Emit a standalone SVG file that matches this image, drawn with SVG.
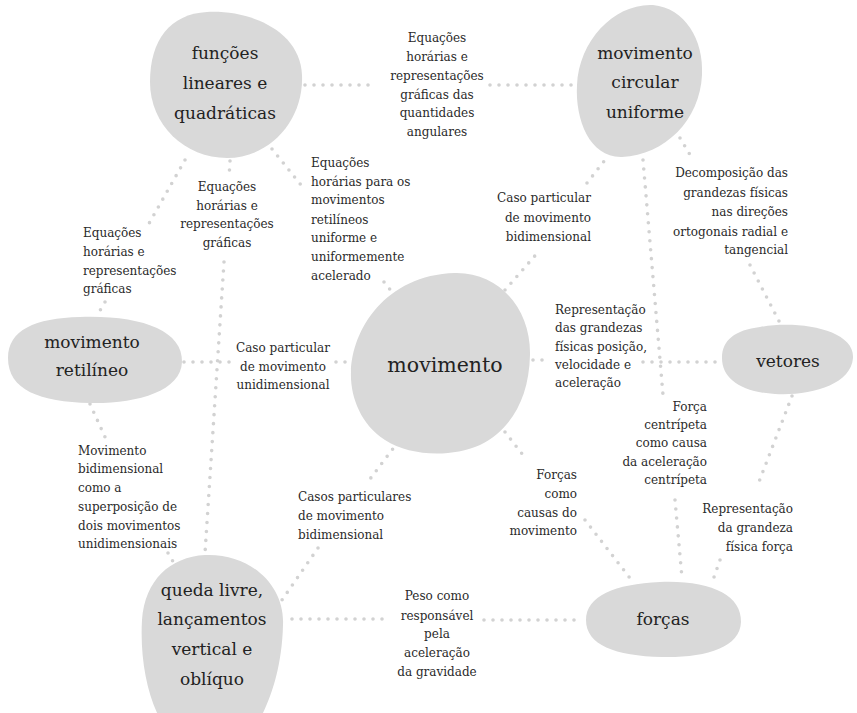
<svg xmlns="http://www.w3.org/2000/svg" width="857" height="713" viewBox="0 0 857 713">
<style>
.blob{fill:#d9d9d9;stroke:none}
.nt{font-family:"DejaVu Serif","Liberation Serif",serif;font-size:17px;fill:#222;text-anchor:middle}
.big{font-size:20.5px}
.lt{font-family:"DejaVu Serif","Liberation Serif",serif;font-size:12px;fill:#2a2a2a}
.m{text-anchor:middle}
.e{text-anchor:end}
.c line{stroke:#d2d2d2;stroke-width:3.6;stroke-linecap:round;stroke-dasharray:0 9;fill:none}
</style>
<rect width="857" height="713" fill="#ffffff"/>
<g id="connectors" class="c">
<line x1="305" y1="85" x2="375" y2="85"/>
<line x1="490" y1="85" x2="575" y2="85"/>
<line x1="185" y1="160" x2="147" y2="227"/>
<line x1="105" y1="302" x2="98" y2="314"/>
<line x1="230" y1="161" x2="229" y2="178"/>
<line x1="224" y1="262" x2="205" y2="553"/>
<line x1="272" y1="149" x2="305" y2="190"/>
<line x1="384" y1="282" x2="392" y2="292"/>
<line x1="184" y1="362" x2="230" y2="362"/>
<line x1="336" y1="362" x2="350" y2="362"/>
<line x1="90" y1="404" x2="105" y2="437"/>
<line x1="168" y1="553" x2="175" y2="565"/>
<line x1="398" y1="442" x2="367" y2="483"/>
<line x1="318" y1="548" x2="282" y2="600"/>
<line x1="505" y1="432" x2="523" y2="455"/>
<line x1="585" y1="520" x2="633" y2="582"/>
<line x1="533" y1="360" x2="543" y2="360"/>
<line x1="643" y1="362" x2="720" y2="362"/>
<line x1="505" y1="290" x2="540" y2="250"/>
<line x1="587" y1="183" x2="605" y2="160"/>
<line x1="643" y1="160" x2="663" y2="395"/>
<line x1="675" y1="500" x2="682" y2="578"/>
<line x1="680" y1="138" x2="692" y2="158"/>
<line x1="750" y1="265" x2="780" y2="323"/>
<line x1="792" y1="396" x2="757" y2="487"/>
<line x1="720" y1="560" x2="713" y2="580"/>
<line x1="292" y1="619" x2="388" y2="619"/>
<line x1="484" y1="620" x2="583" y2="620"/>
</g>
<g id="n-funcoes">
<path class="blob" d="M207 12 C250 10 300 30 302 75 C304 120 270 158 227 158 C185 158 150 125 150 82 C150 40 170 14 207 12 Z"/>
<text class="nt" x="225" y="59">funções</text>
<text class="nt" x="225" y="89">lineares e</text>
<text class="nt" x="225" y="119">quadráticas</text>
</g>
<g id="n-mcu">
<path class="blob" d="M653 5 C685 8 704 40 702 75 C700 120 665 155 622 157 C590 158 575 120 577 85 C579 40 615 3 653 5 Z"/>
<text class="nt" x="645" y="59">movimento</text>
<text class="nt" x="645" y="88">circular</text>
<text class="nt" x="645" y="118">uniforme</text>
</g>
<g id="n-retilineo">
<path class="blob" d="M80 317 C140 315 183 330 182 362 C181 392 135 404 90 403 C40 402 8 390 8 358 C8 330 35 318 80 317 Z"/>
<text class="nt" x="92" y="348">movimento</text>
<text class="nt" x="92" y="376">retilíneo</text>
</g>
<g id="n-movimento">
<path class="blob" d="M455 273 C500 272 531 310 530 355 C529 400 510 430 480 445 C450 458 410 456 385 440 C360 424 350 395 351 372 C352 330 385 275 455 273 Z"/>
<text class="nt big" x="445" y="372">movimento</text>
</g>
<g id="n-vetores">
<path class="blob" d="M760 327 C800 320 855 330 853 358 C851 385 810 396 775 394 C740 392 722 378 722 358 C722 340 735 330 760 327 Z"/>
<text class="nt" x="788" y="367">vetores</text>
</g>
<g id="n-queda">
<path class="blob" d="M205 555 C250 553 285 585 283 625 C282 665 272 695 262 715 L158 715 C146 690 140 655 142 620 C145 580 170 557 205 555 Z"/>
<text class="nt" x="212" y="596">queda livre,</text>
<text class="nt" x="212" y="625">lançamentos</text>
<text class="nt" x="212" y="655">vertical e</text>
<text class="nt" x="212" y="685">oblíquo</text>
</g>
<g id="n-forcas">
<path class="blob" d="M660 582 C710 580 742 595 741 622 C740 648 705 658 662 657 C615 656 586 645 586 620 C586 596 615 584 660 582 Z"/>
<text class="nt" x="663" y="625">forças</text>
</g>
<g id="labels">
<text class="lt m"><tspan x="437" y="42">Equações</tspan><tspan x="437" y="61">horárias e</tspan><tspan x="437" y="80">representações</tspan><tspan x="437" y="99">gráficas das</tspan><tspan x="437" y="117">quantidades</tspan><tspan x="437" y="136">angulares</tspan></text>
<text class="lt"><tspan x="83" y="237">Equações</tspan><tspan x="83" y="256">horárias e</tspan><tspan x="83" y="275">representações</tspan><tspan x="83" y="293">gráficas</tspan></text>
<text class="lt m"><tspan x="227" y="191">Equações</tspan><tspan x="227" y="210">horárias e</tspan><tspan x="227" y="228">representações</tspan><tspan x="227" y="247">gráficas</tspan></text>
<text class="lt"><tspan x="311" y="167">Equações</tspan><tspan x="311" y="186">horárias para os</tspan><tspan x="311" y="204">movimentos</tspan><tspan x="311" y="224">retilíneos</tspan><tspan x="311" y="242">uniforme e</tspan><tspan x="311" y="261">uniformemente</tspan><tspan x="311" y="280">acelerado</tspan></text>
<text class="lt m"><tspan x="283" y="352">Caso particular</tspan><tspan x="283" y="371">de movimento</tspan><tspan x="283" y="389">unidimensional</tspan></text>
<text class="lt"><tspan x="78" y="455">Movimento</tspan><tspan x="78" y="473">bidimensional</tspan><tspan x="78" y="492">como a</tspan><tspan x="78" y="511">superposição de</tspan><tspan x="78" y="530">dois movimentos</tspan><tspan x="78" y="548">unidimensionais</tspan></text>
<text class="lt"><tspan x="298" y="501">Casos particulares</tspan><tspan x="298" y="520">de movimento</tspan><tspan x="298" y="539">bidimensional</tspan></text>
<text class="lt e"><tspan x="577" y="479">Forças</tspan><tspan x="577" y="498">como</tspan><tspan x="577" y="517">causas do</tspan><tspan x="577" y="535">movimento</tspan></text>
<text class="lt m"><tspan x="437" y="600">Peso como</tspan><tspan x="437" y="620">responsável</tspan><tspan x="437" y="638">pela</tspan><tspan x="437" y="657">aceleração</tspan><tspan x="437" y="676">da gravidade</tspan></text>
<text class="lt"><tspan x="555" y="314">Representação</tspan><tspan x="555" y="332">das grandezas</tspan><tspan x="555" y="351">físicas posição,</tspan><tspan x="555" y="369">velocidade e</tspan><tspan x="555" y="387">aceleração</tspan></text>
<text class="lt e"><tspan x="707" y="411">Força</tspan><tspan x="707" y="429">centrípeta</tspan><tspan x="707" y="447">como causa</tspan><tspan x="707" y="466">da aceleração</tspan><tspan x="707" y="484">centrípeta</tspan></text>
<text class="lt e"><tspan x="591" y="202">Caso particular</tspan><tspan x="591" y="222">de movimento</tspan><tspan x="591" y="241">bidimensional</tspan></text>
<text class="lt e"><tspan x="788" y="177">Decomposição das</tspan><tspan x="788" y="197">grandezas físicas</tspan><tspan x="788" y="216">nas direções</tspan><tspan x="788" y="236">ortogonais radial e</tspan><tspan x="788" y="254">tangencial</tspan></text>
<text class="lt e"><tspan x="793" y="513">Representação</tspan><tspan x="793" y="532">da grandeza</tspan><tspan x="793" y="551">física força</tspan></text>
</g>
</svg>
